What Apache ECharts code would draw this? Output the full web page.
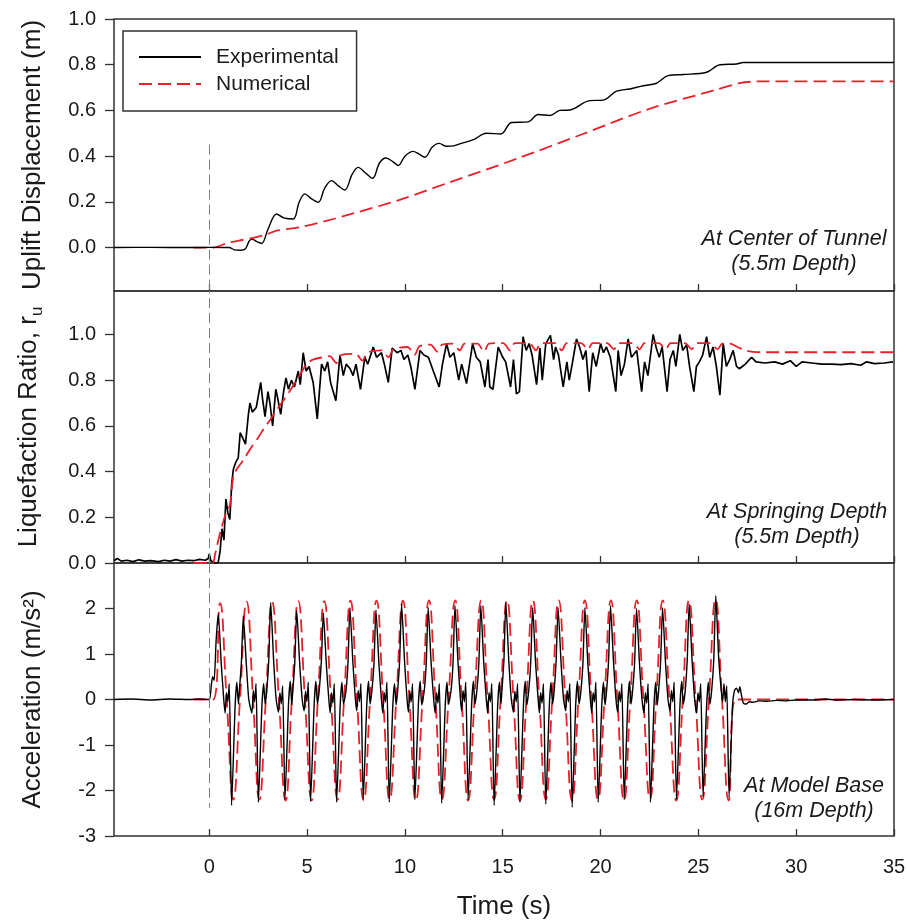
<!DOCTYPE html>
<html>
<head>
<meta charset="utf-8">
<script src="https://cdn.jsdelivr.net/npm/echarts@6/dist/echarts.min.js"></script>
<style>html,body{margin:0;padding:0;background:#fff}#c{width:907px;height:920px}</style>
</head>
<body>
<div id="c"></div>
<script>
// ---------------- DATA ----------------
var timeTicks = [0, 5, 10, 15, 20, 25, 30, 35];
var timeMin = -4.87, timeMax = 35;
var upliftTicks = [0, 0.2, 0.4, 0.6, 0.8, 1.0];
var upliftMin = -0.19, upliftMax = 1.0;
var ruTicks = [0, 0.2, 0.4, 0.6, 0.8, 1.0];
var ruMin = 0, ruMax = 1.19;
var accTicks = [-3, -2, -1, 0, 1, 2];
var accMin = -3, accMax = 3;
var seriesNames = ['Experimental', 'Numerical'];
var panelNotes = [['At Center of Tunnel', '(5.5m Depth)'], ['At Springing Depth', '(5.5m Depth)'], ['At Model Base', '(16m Depth)']];
var shakeStartTop = [0, 0.45];   // dashed marker at t=0, upper end in panel 1
var shakeStartBottom = [0, -2.38]; // lower end in panel 3

var upliftExp = [[-4.87,0],[-3,0.001],[-1,0],[0,0.001],[1.0,0.0],[1.3,-0.01],[1.6,-0.012],[1.85,-0.005],[2.05,0.03],[2.2,0.036],[2.45,0.025],[2.68,0.018],[3.0,0.08],[3.44,0.147],[3.8,0.13],[4.29,0.125],[4.6,0.2],[4.89,0.235],[5.2,0.215],[5.57,0.198],[5.9,0.26],[6.25,0.293],[6.6,0.27],[6.93,0.252],[7.3,0.32],[7.61,0.351],[8.0,0.325],[8.35,0.303],[8.7,0.37],[9.03,0.392],[9.4,0.375],[9.66,0.359],[10.0,0.4],[10.42,0.421],[10.7,0.41],[11.02,0.395],[11.4,0.44],[11.75,0.456],[12.13,0.443],[12.5,0.445],[12.81,0.454],[13.5,0.472],[14.17,0.5],[14.9,0.497],[15.45,0.547],[16.3,0.55],[16.81,0.582],[17.41,0.578],[17.92,0.6],[18.43,0.602],[19.45,0.643],[20.13,0.645],[20.82,0.684],[21.5,0.694],[22.18,0.708],[22.86,0.719],[23.45,0.752],[24.22,0.757],[25.42,0.767],[26.1,0.8],[26.95,0.803],[27.29,0.81],[30,0.81],[35,0.81]];
var upliftNum = [[-0.8,0],[0.2,0],[0.55,0.008],[0.85,0.018],[1.06,0.023],[1.6,0.032],[2.24,0.042],[2.93,0.058],[3.44,0.074],[4.63,0.089],[6.34,0.125],[7.18,0.145],[9.73,0.209],[12.3,0.286],[15.7,0.388],[19.1,0.497],[22.5,0.607],[25.9,0.69],[27.1,0.719],[28.1,0.727],[35,0.727]];

var ruExp = [[-4.87,0.01],[-4.7,0.02],[-4.5,0.008],[-4.2,0.012],[-3.9,0.006],[-3.6,0.014],[-3.3,0.008],[-3.0,0.01],[-2.6,0.006],[-2.3,0.012],[-2.0,0.008],[-1.7,0.015],[-1.4,0.008],[-1.1,0.012],[-0.8,0.01],[-0.5,0.016],[-0.2,0.012],[-0.05,0.02],[0.0,0.04],[0.08,0.01],[0.3,0.0],[0.45,0.0],[0.55,0.05],[0.65,0.15],[0.75,0.1],[0.85,0.28],[0.95,0.22],[1.05,0.19],[1.15,0.35],[1.23,0.41],[1.35,0.44],[1.48,0.46],[1.58,0.57],[1.65,0.57],[1.75,0.54],[1.85,0.52],[2.0,0.65],[2.08,0.7],[2.2,0.66],[2.4,0.68],[2.63,0.79],[2.72,0.72],[2.85,0.64],[3.0,0.75],[3.1,0.7],[3.24,0.6],[3.4,0.76],[3.5,0.72],[3.65,0.65],[3.8,0.75],[3.92,0.81],[4.05,0.76],[4.2,0.8],[4.35,0.77],[4.55,0.84],[4.65,0.78],[4.8,0.92],[4.95,0.84],[5.1,0.86],[5.31,0.79],[5.52,0.63],[5.74,0.87],[5.9,0.84],[6.05,0.88],[6.2,0.79],[6.47,0.71],[6.68,0.91],[6.85,0.82],[7.0,0.87],[7.2,0.85],[7.35,0.82],[7.5,0.87],[7.73,0.76],[7.95,0.9],[8.1,0.87],[8.38,0.945],[8.55,0.9],[8.8,0.92],[8.95,0.87],[9.15,0.79],[9.35,0.94],[9.6,0.92],[9.8,0.93],[9.95,0.89],[10.15,0.91],[10.3,0.86],[10.51,0.76],[10.77,0.93],[10.97,0.91],[11.2,0.9],[11.45,0.84],[11.75,0.77],[11.92,0.87],[12.13,0.96],[12.3,0.9],[12.5,0.92],[12.75,0.8],[12.9,0.87],[13.15,0.785],[13.46,0.96],[13.65,0.9],[13.85,0.88],[14.09,0.77],[14.25,0.89],[14.34,0.77],[14.5,0.76],[14.77,0.945],[15.0,0.9],[15.15,0.88],[15.4,0.77],[15.55,0.89],[15.7,0.74],[15.85,0.75],[16.04,0.99],[16.2,0.93],[16.35,0.96],[16.5,0.91],[16.73,0.78],[16.9,0.94],[17.02,0.8],[17.2,0.96],[17.44,0.996],[17.6,0.89],[17.7,0.945],[17.85,0.91],[18.09,0.77],[18.28,0.88],[18.4,0.8],[18.55,0.87],[18.77,0.98],[18.93,0.945],[19.1,0.89],[19.25,0.93],[19.42,0.75],[19.6,0.92],[19.78,0.86],[20.0,0.96],[20.15,0.92],[20.3,0.945],[20.5,0.9],[20.78,0.75],[20.9,0.93],[21.05,0.82],[21.22,0.87],[21.41,0.98],[21.58,0.9],[21.85,0.93],[22.1,0.75],[22.25,0.88],[22.42,0.82],[22.69,1.0],[22.85,0.94],[23.0,0.9],[23.15,0.945],[23.4,0.75],[23.55,0.89],[23.72,0.93],[23.85,0.86],[24.05,1.0],[24.2,0.93],[24.4,0.955],[24.55,0.86],[24.77,0.75],[24.9,0.86],[25.05,0.88],[25.22,0.91],[25.42,0.99],[25.58,0.9],[25.75,0.945],[25.92,0.86],[26.1,0.734],[26.27,0.96],[26.43,0.86],[26.6,0.89],[26.78,0.93],[26.95,0.86],[27.1,0.85],[27.4,0.87],[27.72,0.9],[27.95,0.88],[28.4,0.875],[28.9,0.88],[29.3,0.87],[29.7,0.885],[30.0,0.86],[30.3,0.88],[30.8,0.875],[31.3,0.87],[31.8,0.87],[32.3,0.868],[32.8,0.872],[33.3,0.865],[33.6,0.88],[34.0,0.872],[34.5,0.875],[34.95,0.88]];
var ruNum = [[-0.8,0],[0.15,0],[0.3,0.04],[0.55,0.13],[0.9,0.23],[1.05,0.25],[1.23,0.38],[1.4,0.41],[1.74,0.45],[2.1,0.5],[2.51,0.55],[2.8,0.59],[3.1,0.625],[3.45,0.67],[3.78,0.71],[4.1,0.75],[4.47,0.8],[4.75,0.84],[4.98,0.87],[5.3,0.89],[5.8,0.9],[6.15,0.905],[6.5,0.875],[6.75,0.91],[7.48,0.915],[7.83,0.885],[8.08,0.92],[8.81,0.93],[9.16,0.9],[9.41,0.935],[10.14,0.945],[10.49,0.91],[10.74,0.948],[11.3,0.955],[11.65,0.925],[11.9,0.955],[12.45,0.96],[12.8,0.93],[13.05,0.96],[13.7,0.96],[14.05,0.925],[14.3,0.96],[15.02,0.962],[15.37,0.93],[15.62,0.962],[16.35,0.962],[16.7,0.93],[16.95,0.962],[17.67,0.962],[18.02,0.93],[18.27,0.962],[19.0,0.962],[19.35,0.935],[19.6,0.962],[20.33,0.962],[20.68,0.935],[20.93,0.962],[21.65,0.962],[22.0,0.935],[22.25,0.962],[22.98,0.962],[23.33,0.935],[23.58,0.962],[24.31,0.962],[24.66,0.935],[24.91,0.962],[25.63,0.962],[25.98,0.935],[26.23,0.96],[26.6,0.96],[27.0,0.945],[27.4,0.93],[27.8,0.924],[28.2,0.922],[35,0.922]];

var accExp = [[-4.87,0],[-4,0.01],[-3,-0.01],[-2,0.01],[-1,0],[-0.5,0.01],[0,0],[0.1,0.3],[0.17,0.5],[0.25,0.42],[0.35,1.3],
[0.46,1.88],[0.61,0.8],[0.74,0.0],[0.81,-0.3],[0.88,0.15],[0.95,-0.05],[1.02,0.35],[1.14,-2.33],[1.32,-0.15],[1.41,0.38],[1.49,-0.1],[1.54,0.2],[1.64,0.8],
[1.74,1.84],[1.89,0.8],[2.02,0.0],[2.18,-0.3],[2.25,0.2],[2.32,-0.05],[2.39,0.35],[2.51,-2.26],[2.69,-0.15],[2.78,0.35],[2.86,-0.1],[2.94,0.2],[3.04,0.85],
[3.14,2.13],[3.29,0.85],[3.42,0.0],[3.54,-0.28],[3.61,0.15],[3.68,-0.1],[3.75,0.3],[3.87,-2.2],[4.05,-0.1],[4.14,0.4],[4.22,-0.12],[4.27,0.2],[4.37,0.8],
[4.47,1.95],[4.62,0.8],[4.75,0.0],[4.85,-0.25],[4.92,0.18],[4.99,-0.05],[5.06,0.38],[5.18,-2.24],[5.36,-0.12],[5.45,0.4],[5.53,-0.1],[5.63,0.25],[5.73,0.85],
[5.83,1.9],[5.98,0.8],[6.11,0.0],[6.18,-0.3],[6.25,0.15],[6.32,-0.08],[6.39,0.35],[6.51,-2.26],[6.69,-0.15],[6.78,0.38],[6.86,-0.1],[6.99,0.2],[7.09,0.8],
[7.19,2.02],[7.34,0.82],[7.47,0.0],[7.54,-0.25],[7.61,0.2],[7.68,-0.05],[7.75,0.35],[7.87,-2.2],[8.05,-0.12],[8.14,0.4],[8.22,-0.1],[8.32,0.22],[8.42,0.8],
[8.52,1.97],[8.67,0.8],[8.8,0.0],[8.87,-0.3],[8.94,0.15],[9.01,-0.05],[9.08,0.38],[9.2,-2.26],[9.38,-0.15],[9.47,0.35],[9.55,-0.12],[9.63,0.2],[9.73,0.85],
[9.83,2.1],[9.98,0.85],[10.11,0.0],[10.18,-0.28],[10.25,0.18],[10.32,-0.05],[10.39,0.35],[10.51,-2.2],[10.69,-0.1],[10.78,0.4],[10.86,-0.12],[10.99,0.2],[11.09,0.8],
[11.19,2.02],[11.34,0.8],[11.47,0.0],[11.55,-0.3],[11.62,0.15],[11.69,-0.08],[11.76,0.35],[11.88,-2.28],[12.06,-0.15],[12.15,0.38],[12.23,-0.1],[12.36,0.2],[12.46,0.82],
[12.56,2.06],[12.71,0.85],[12.84,0.0],[12.9,-0.25],[12.97,0.2],[13.04,-0.05],[13.11,0.38],[13.23,-2.2],[13.41,-0.12],[13.5,0.4],[13.58,-0.1],[13.68,0.2],[13.78,0.8],
[13.88,2.06],[14.03,0.8],[14.16,0.0],[14.23,-0.3],[14.3,0.15],[14.37,-0.05],[14.44,0.35],[14.56,-2.33],[14.74,-0.15],[14.83,0.38],[14.91,-0.1],[14.96,0.2],[15.06,0.85],
[15.16,2.13],[15.31,0.85],[15.44,0.0],[15.55,-0.28],[15.62,0.18],[15.69,-0.05],[15.76,0.35],[15.88,-2.26],[16.06,-0.12],[16.15,0.4],[16.23,-0.12],[16.33,0.2],[16.43,0.8],
[16.53,2.02],[16.68,0.8],[16.81,0.0],[16.87,-0.3],[16.94,0.15],[17.01,-0.08],[17.08,0.35],[17.2,-2.3],[17.38,-0.15],[17.47,0.38],[17.55,-0.1],[17.63,0.2],[17.73,0.85],
[17.83,2.02],[17.98,0.82],[18.11,0.0],[18.22,-0.25],[18.29,0.2],[18.36,-0.05],[18.43,0.35],[18.55,-2.37],[18.73,-0.12],[18.82,0.4],[18.9,-0.1],[19.0,0.2],[19.1,0.8],
[19.2,2.02],[19.35,0.8],[19.48,0.0],[19.55,-0.3],[19.62,0.15],[19.69,-0.05],[19.76,0.38],[19.88,-2.26],[20.06,-0.15],[20.15,0.38],[20.23,-0.12],[20.31,0.2],[20.41,0.85],
[20.51,2.06],[20.66,0.85],[20.79,0.0],[20.88,-0.28],[20.95,0.18],[21.02,-0.05],[21.09,0.35],[21.21,-2.2],[21.39,-0.1],[21.48,0.4],[21.56,-0.1],[21.64,0.2],[21.74,0.8],
[21.84,2.0],[21.99,0.8],[22.12,0.0],[22.22,-0.3],[22.29,0.15],[22.36,-0.08],[22.43,0.35],[22.55,-2.26],[22.73,-0.15],[22.82,0.38],[22.9,-0.12],[22.97,0.2],[23.07,0.82],
[23.17,2.02],[23.32,0.82],[23.45,0.0],[23.55,-0.25],[23.62,0.2],[23.69,-0.05],[23.76,0.38],[23.88,-2.2],[24.06,-0.12],[24.15,0.4],[24.23,-0.1],[24.33,0.2],[24.43,0.85],
[24.53,2.1],[24.68,0.85],[24.81,0.0],[24.91,-0.3],[24.98,0.15],[25.05,-0.05],[25.12,0.35],[25.24,-2.14],[25.42,-0.15],[25.51,0.38],[25.59,-0.1],[25.69,0.25],[25.79,0.9],
[25.89,2.28],[26.04,0.9],[26.17,0.2],[26.24,-0.05],[26.31,0.35],[26.38,-0.05],[26.45,0.3],[26.57,-2.15],[26.75,-0.1],[26.85,0.2],[26.95,0.25],[27.05,0.15],[27.12,0.28],[27.2,0.1],[27.3,-0.08],[27.45,-0.1],[27.6,-0.05],[27.8,-0.06],[28.1,-0.03],[28.5,-0.04],[29,-0.02],[29.5,-0.03],[30,-0.01],[31,-0.01],[31.5,0.01],[32,-0.01],[33,0.0],[34,-0.01],[35,0.0]];

var accNum = [[-0.8,0],[0.2,0],[0.55,2.12],[0.89,0],[1.23,-2.2],[1.57,0],[1.91,2.15],[2.24,0],[2.56,-2.2],[2.89,0],[3.21,2.15],[3.56,0],[3.9,-2.22],[4.22,0],[4.55,2.16],[4.89,0],[5.23,-2.22],[5.55,0],[5.88,2.16],[6.22,0],[6.56,-2.2],[6.89,0],[7.22,2.17],[7.55,0],[7.89,-2.22],[8.22,0],[8.55,2.17],[8.89,0],[9.22,-2.2],[9.56,0],[9.9,2.17],[10.23,0],[10.56,-2.22],[10.9,0],[11.23,2.18],[11.56,0],[11.89,-2.2],[12.23,0],[12.57,2.18],[12.9,0],[13.23,-2.22],[13.56,0],[13.9,2.18],[14.23,0],[14.56,-2.2],[14.89,0],[15.22,2.18],[15.55,0],[15.88,-2.22],[16.21,0],[16.54,2.18],[16.87,0],[17.2,-2.2],[17.53,0],[17.86,2.18],[18.2,0],[18.54,-2.22],[18.87,0],[19.2,2.18],[19.53,0],[19.87,-2.2],[20.2,0],[20.53,2.18],[20.86,0],[21.2,-2.22],[21.52,0],[21.85,2.18],[22.19,0],[22.53,-2.2],[22.85,0],[23.18,2.18],[23.52,0],[23.87,-2.22],[24.2,0],[24.52,2.18],[24.86,0],[25.2,-2.2],[25.54,0],[25.88,2.2],[26.21,0],[26.55,-2.22],[26.9,0],[35,0]];

// ---------------- STYLE ----------------
var FONT = '"Liberation Sans", Arial, Helvetica, sans-serif';
var RED = '#e8202a';
var INK = '#1a1a1a';
var grids = [
  {left: 114, right: 13, top: 19, height: 272},
  {left: 114, right: 13, top: 291, height: 272},
  {left: 114, right: 13, top: 563, height: 273}
];
grids.forEach(function (g) { g.show = true; g.borderColor = '#333'; g.borderWidth = 1.5; g.backgroundColor = 'transparent'; g.containLabel = false; g.outerBoundsMode = 'none'; });

function xAxisFor(i) {
  return {
    type: 'value', gridIndex: i, min: timeMin, max: timeMax, position: 'bottom',
    axisLine: {show: false, onZero: false}, splitLine: {show: false},
    axisTick: {show: true, inside: true, length: 7, customValues: timeTicks, lineStyle: {color: '#333', width: 1.3}},
    axisLabel: {show: i === 2, customValues: timeTicks, margin: 21, fontSize: 20, color: INK, fontFamily: FONT},
    name: i === 2 ? 'Time (s)' : '', nameLocation: 'middle', nameGap: 58,
    nameTextStyle: {fontSize: 26, color: INK, fontFamily: FONT}
  };
}
function yAxisFor(i, mn, mx, ticks, name, fmt, extra) {
  var a = {
    type: 'value', gridIndex: i, min: mn, max: mx, position: 'left',
    axisLine: {show: false, onZero: false}, splitLine: {show: false},
    axisTick: {show: true, inside: false, length: 9, customValues: ticks, lineStyle: {color: '#333', width: 1.3}},
    axisLabel: {customValues: ticks, margin: 18, fontSize: 20, color: INK, fontFamily: FONT, formatter: fmt},
    name: name, nameLocation: 'middle', nameGap: 68,
    nameTextStyle: {fontSize: 26, color: INK, fontFamily: FONT}
  };
  if (extra) { for (var k in extra) a.nameTextStyle[k] = extra[k]; }
  return a;
}
var f1 = function (v) { return v.toFixed(1); };
var f0 = function (v) { return String(Math.round(v)); };

function vline(p1, p2) {
  return {
    silent: true, symbol: ['none', 'none'], animation: false,
    label: {show: false},
    lineStyle: {color: '#808080', type: [10, 5], width: 1},
    data: [[{coord: p1}, {coord: p2}]]
  };
}
function expSeries(i, data, smooth, width, ml) {
  var s = {name: seriesNames[0], type: 'line', xAxisIndex: i, yAxisIndex: i, data: data,
    showSymbol: false, symbol: 'none', symbolSize: 0, smooth: smooth, z: 3,
    lineStyle: {color: '#000', width: width}, itemStyle: {color: '#000'}};
  if (ml) s.markLine = ml;
  return s;
}
function numSeries(i, data, smooth, z) {
  return {name: seriesNames[1], type: 'line', xAxisIndex: i, yAxisIndex: i, data: data,
    showSymbol: false, symbol: 'none', symbolSize: 0, smooth: smooth, z: z,
    lineStyle: {color: RED, width: 1.8, type: [13, 6]}, itemStyle: {color: RED}};
}

function note(lines, cx, top) {
  return {type: 'text', x: cx, y: top, silent: true,
    style: {text: lines.join('\n'), align: 'center', verticalAlign: 'top', lineHeight: 25,
      fontSize: 21.5, fontStyle: 'italic', fontFamily: FONT, fill: INK}};
}

var chart = echarts.init(document.getElementById('c'), null, {renderer: 'canvas'});
chart.setOption({
  animation: false,
  backgroundColor: '#fff',
  grid: grids,
  legend: {
    data: seriesNames, orient: 'vertical', left: 123, top: 31,
    padding: [14, 18, 15, 15], itemGap: 3, itemWidth: 62, itemHeight: 14,
    borderColor: '#333', borderWidth: 1.5, borderRadius: 0,
    itemStyle: {opacity: 0},
    textStyle: {fontSize: 21, color: INK, fontFamily: FONT, lineHeight: 24, padding: [0, 0, 0, 10]}
  },
  xAxis: [xAxisFor(0), xAxisFor(1), xAxisFor(2)],
  yAxis: [
    yAxisFor(0, upliftMin, upliftMax, upliftTicks, 'Uplift Displacement (m)', f1),
    yAxisFor(1, ruMin, ruMax, ruTicks, '{a|Liquefaction Ratio, r}{b|u}', f1, {rich: {
      a: {fontSize: 26, fontFamily: FONT, color: INK, verticalAlign: 'top', lineHeight: 30},
      b: {fontSize: 17, fontFamily: FONT, color: INK, verticalAlign: 'bottom', lineHeight: 17}}}),
    yAxisFor(2, accMin, accMax, accTicks, 'Acceleration (m/s\u00B2)', f0)
  ],
  graphic: [
    note(panelNotes[0], 794, 227),
    note(panelNotes[1], 797, 500),
    note(panelNotes[2], 814, 774)
  ],
  series: [
    numSeries(0, upliftNum, 0.3, 2),
    expSeries(0, upliftExp, 0.35, 1.4, vline(shakeStartTop, [0, upliftMin])),
    expSeries(1, ruExp, false, 1.7, vline([0, ruMin], [0, ruMax])),
    numSeries(1, ruNum, 0.3, 4),
    numSeries(2, accNum, true, 2),
    expSeries(2, accExp, 0.2, 1.4, vline([0, accMax], shakeStartBottom))
  ]
});
</script>
</body>
</html>
